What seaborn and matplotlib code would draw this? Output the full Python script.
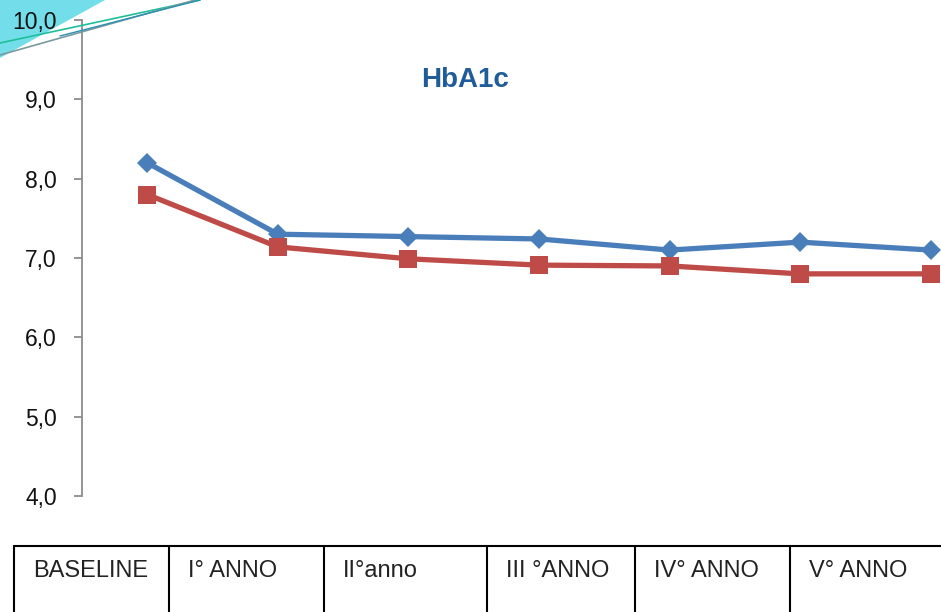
import matplotlib
matplotlib.use("Agg")
import matplotlib.pyplot as plt
import seaborn as sns
import pandas as pd
from matplotlib.patches import Polygon
from matplotlib.lines import Line2D

# ---- data ----
categories = ["BASELINE", "I° ANNO", "II°anno", "III °ANNO", "IV° ANNO", "V° ANNO", "VI° ANNO"]
serie_1 = [8.2, 7.3, 7.27, 7.24, 7.1, 7.2, 7.1]
serie_2 = [7.8, 7.14, 6.99, 6.91, 6.9, 6.8, 6.8]
series_names = ["Serie 1", "Serie 2"]
y_ticks = [4.0, 5.0, 6.0, 7.0, 8.0, 9.0, 10.0]
title = "HbA1c"

df = pd.DataFrame({
    "periodo": categories * 2,
    "valore": serie_1 + serie_2,
    "serie": [series_names[0]] * len(categories) + [series_names[1]] * len(categories),
})

sns.set_theme(style="white")
plt.rcParams["font.family"] = ["Liberation Sans", "DejaVu Sans"]

W, H = 941, 612
fig = plt.figure(figsize=(W / 100, H / 100), dpi=100)
fig.patch.set_facecolor("white")

def fx(px):
    return px / W

def fy(py):
    return 1 - py / H

# decorative corner (behind everything)
fig.add_artist(Polygon([[fx(0), fy(0)], [fx(105), fy(0)], [fx(0), fy(58)]], closed=True,
                       facecolor="#74DDEA", edgecolor="none", zorder=-5))

# axes: y=10 at py 20, y=4 at py 496 ; x index 0 at px 148, step ~130.6
ax = fig.add_axes([fx(82), fy(496), fx(996) - fx(82), fy(20) - fy(496)])
ax.set_facecolor("none")

palette = {series_names[0]: "#4A7EBB", series_names[1]: "#BE4B48"}
sns.lineplot(data=df, x="periodo", y="valore", hue="serie", style="serie",
             markers={series_names[0]: "D", series_names[1]: "s"},
             dashes=False, palette=palette, linewidth=3.8, markersize=10,
             markeredgewidth=0, legend=False, ax=ax, sort=False)
for ln in ax.lines:
    if ln.get_marker() == "s":
        ln.set_markersize(13.5)
    else:
        ln.set_markersize(10)

ax.set_xlim(-0.5, 6.5)
ax.set_ylim(4.0, 10.0)
ax.set_yticks(y_ticks)
ax.set_yticklabels([f"{v:.1f}".replace(".", ",") for v in y_ticks], fontsize=16.5, color="#111111")
ax.set_xticks([])
ax.set_xlabel("")
ax.set_ylabel("")
for s in ["top", "right", "bottom"]:
    ax.spines[s].set_visible(False)
ax.spines["left"].set_color("#8C8C8C")
ax.spines["left"].set_linewidth(1.3)
ax.tick_params(axis="y", direction="out", length=6, width=1.3, color="#8C8C8C", pad=12, left=True)

# title
fig.text(fx(465), fy(80), title, ha="center", va="center", fontsize=20, fontweight="bold", color="#1F5C99")

# table under the chart
col_edges = [14, 169, 324, 487, 635, 790, 945, 1100]
top = 546
fig.add_artist(Line2D([fx(col_edges[0]), 1.0], [fy(top), fy(top)], color="black", lw=1.5))
for x in col_edges[:-1]:
    if x < W:
        fig.add_artist(Line2D([fx(x), fx(x)], [fy(top), fy(H + 5)], color="black", lw=1.5))
for i, lab in enumerate(categories):
    if col_edges[i] + 19 < W - 20:
        fig.text(fx(col_edges[i] + 19), fy(571), lab, ha="left", va="center", fontsize=17, color="#222222")

# decorative lines
fig.add_artist(Line2D([fx(0), fx(200)], [fy(43), fy(0)], color="#1DBF9A", lw=1.2))
fig.add_artist(Line2D([fx(0), fx(195)], [fy(55), fy(0)], color="#7A9AA0", lw=1.2))
fig.add_artist(Line2D([fx(60), fx(200)], [fy(36), fy(0)], color="#2A8FB0", lw=1.0))

fig.savefig("out.png", dpi=100)
